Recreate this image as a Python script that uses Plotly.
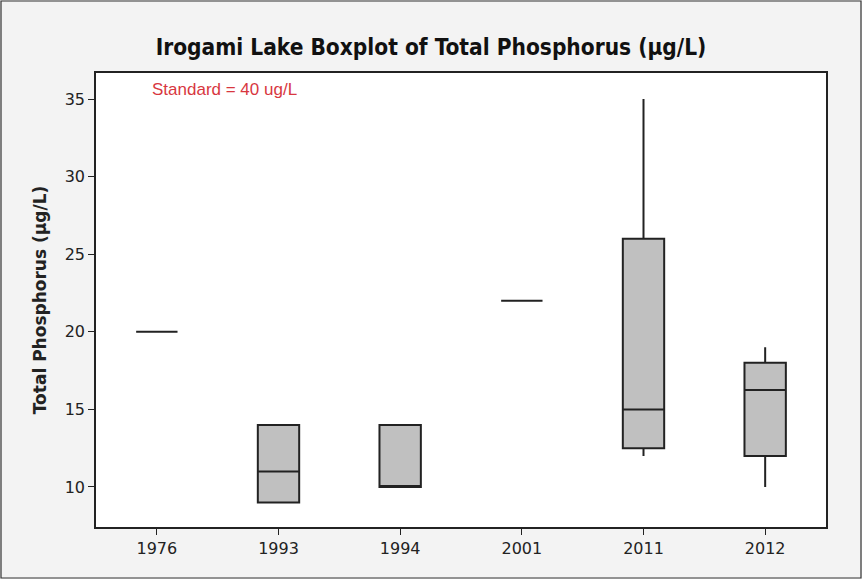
import plotly.graph_objects as go

years = ["1976", "1993", "1994", "2001", "2011", "2012"]
lower_whisker = [20, 9, 10, 22, 12, 10]
q1_values = [20, 9, 10, 22, 12.5, 12]
median_values = [20, 11, 10, 22, 15, 16.25]
q3_values = [20, 14, 14, 22, 26, 18]
upper_whisker = [20, 14, 14, 22, 35, 19]
y_ticks = [10, 15, 20, 25, 30, 35]

W, H = 862, 579
ML, MR, MT, MB = 96, 36, 73, 52

fig = go.Figure()
fig.add_trace(go.Box(
    x=years,
    q1=q1_values,
    median=median_values,
    q3=q3_values,
    lowerfence=lower_whisker,
    upperfence=upper_whisker,
    fillcolor="#c0c0c0",
    line=dict(color="#222222", width=2),
    whiskerwidth=0,
    width=0.34,
    boxpoints=False,
    showlegend=False,
))

pw = W - ML - MR
ph = H - MT - MB
fig.add_shape(type="rect", xref="paper", yref="paper",
              x0=-(ML - 1) / pw, x1=1 + (MR - 1) / pw,
              y0=-(MB - 1) / ph, y1=1 + (MT - 1) / ph,
              line=dict(color="#333333", width=1.2), fillcolor="rgba(0,0,0,0)")

fig.add_annotation(
    text="Standard = 40 ug/L", xref="paper", yref="paper",
    x=(150 - ML) / pw, y=1 - (89 - MT) / ph, xanchor="left", yanchor="middle",
    showarrow=False, font=dict(family="Liberation Sans", size=17, color="#d8373f"),
)

fig.update_layout(
    width=W, height=H,
    margin=dict(l=ML, r=MR, t=MT, b=MB),
    paper_bgcolor="#f3f3f3",
    plot_bgcolor="white",
    title=dict(text="<b>Irogami Lake Boxplot of Total Phosphorus (µg/L)</b>",
               x=0.5, xanchor="center", y=1 - 47 / H, yanchor="middle",
               font=dict(family="DejaVu Sans Condensed, DejaVu Sans", size=22.5, color="#111111")),
    font=dict(family="DejaVu Sans", color="#222222"),
)
fig.update_xaxes(
    type="category", categoryorder="array", categoryarray=years,
    range=[-0.5, 5.5],
    showline=True, linecolor="#222222", linewidth=1.5, mirror=True,
    ticks="outside", ticklen=6, tickcolor="#222222", tickwidth=1.2,
    tickfont=dict(size=16, family="DejaVu Sans"),
    showgrid=False, zeroline=False,
)
fig.update_yaxes(
    range=[7.42, 36.68],
    tickvals=y_ticks,
    showline=True, linecolor="#222222", linewidth=1.5, mirror=True,
    ticks="outside", ticklen=6, tickcolor="#222222", tickwidth=1.2,
    tickfont=dict(size=16, family="DejaVu Sans"),
    showgrid=False, zeroline=False,
    title=dict(text="<b>Total Phosphorus (µg/L)</b>", standoff=14,
               font=dict(size=17, family="DejaVu Sans")),
)

fig.write_html("out.html", config={"displayModeBar": False},
               post_script="document.body.style.margin='0';")
